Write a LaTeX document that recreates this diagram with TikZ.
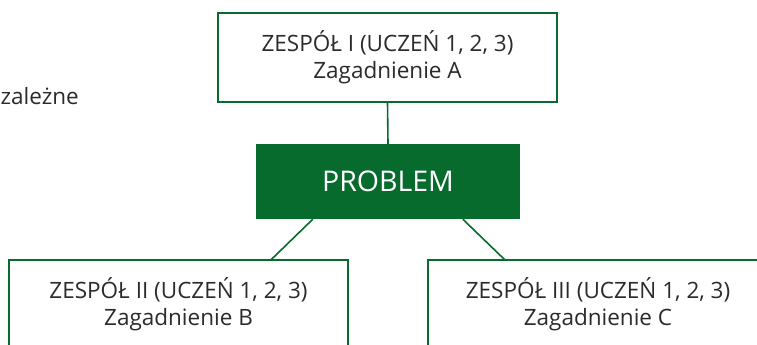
\documentclass[tikz,border=0pt]{standalone}
\usepackage{fontspec}
\setmainfont{Open Sans}
\definecolor{dgreen}{HTML}{066B2D}
\definecolor{txt}{HTML}{2B2B2B}
\tikzset{
  teambox/.style={draw=dgreen, line width=1.2pt, fill=white, minimum width=339pt, minimum height=89pt, inner sep=0pt, align=center, text=txt, font=\fontsize{22.5}{27}\selectfont},
  probbox/.style={fill=dgreen, minimum width=264pt, minimum height=75pt, inner sep=0pt, text=white, font=\fontsize{28.5}{30}\selectfont},
  link/.style={draw=dgreen, line width=1.6pt}
}
\begin{document}
\begin{tikzpicture}[x=1pt,y=-1pt]
\useasboundingbox (0,0) rectangle (757,345);
\clip (0,0) rectangle (757,345);
\node[teambox] (a) at (387.5,57.5) {ZESPÓŁ I (UCZEŃ 1, 2, 3)\\Zagadnienie A};
\node[probbox] (p) at (388,181.5) {PROBLEM};
\node[teambox] (b) at (178.5,304.5) {ZESPÓŁ II (UCZEŃ 1, 2, 3)\\Zagadnienie B};
\node[teambox, minimum width=340pt] (c) at (598,304.5) {ZESPÓŁ III (UCZEŃ 1, 2, 3)\\Zagadnienie C};
\node[anchor=base east, inner sep=0pt, text=txt, font=\fontsize{22.5}{27}\selectfont] (z) at (79,104) {zależne};
\draw[link] (a.south) -- (p.north);
\draw[link] ([xshift=57pt]p.south west) -- ([xshift=263pt]b.north west);
\draw[link] ([xshift=207pt]p.south west) -- ([xshift=77pt]c.north west);
\end{tikzpicture}
\end{document}
